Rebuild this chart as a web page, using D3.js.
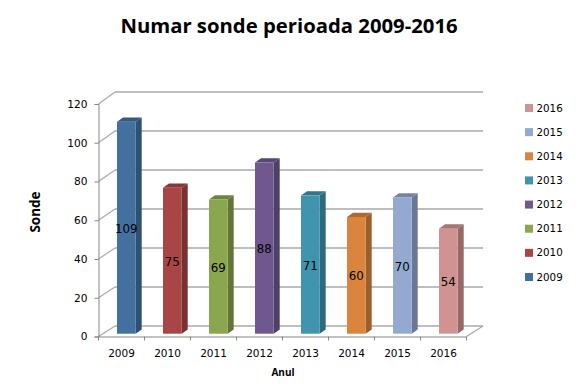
<!DOCTYPE html>
<html>
<head>
<meta charset="utf-8">
<script src="https://d3js.org/d3.v7.min.js"></script>
<style>
  html, body { margin: 0; padding: 0; background: #fff; }
  svg { display: block; }
  text { font-family: "DejaVu Sans", sans-serif; fill: #000; }
  .title { font-family: "Open Sans", sans-serif; font-weight: 700; font-size: 20.3px; }
  .axis-title { font-family: "Open Sans", sans-serif; font-weight: 700; }
</style>
</head>
<body>
<svg id="chart" width="576" height="384"></svg>
<script>
const years = ["2009", "2010", "2011", "2012", "2013", "2014", "2015", "2016"];
const sonde = [109, 75, 69, 88, 71, 60, 70, 54];
const colors = ["#44709f", "#a94544", "#8aa64f", "#70588f", "#4094ae", "#db843d", "#93a9cf", "#d19392"];
const yTicks = [0, 20, 40, 60, 80, 100, 120];

const svg = d3.select("#chart");

// front plane of the fake 3d box
let x = d3.scaleBand().domain(years).range([98.5, 466.5]);
let y = d3.scaleLinear().domain([0, 120]).range([336.5, 104]);
// back wall, gridlines live here
let yBack = d3.scaleLinear().domain([0, 120]).range([326, 92]);
// bars stand in the middle of the floor
let yBar = d3.scaleLinear().domain([0, 120]).range([333.7, 100.3]);

const depthX = 16.5;
const barDepthX = 6, barDepthY = 4.3;
const barWidth = 18.7, barShift = 18.5;
const gridColor = "#a9a9a9", axisColor = "#868686";

// gridlines + wall
let grid = svg.append("g");
grid.selectAll("line.back").data(yTicks).enter().append("line")
  .attr("class", "back")
  .attr("x1", x.range()[0] + depthX).attr("x2", x.range()[1] + depthX)
  .attr("y1", d => yBack(d)).attr("y2", d => yBack(d))
  .attr("stroke", gridColor).attr("stroke-width", 1.4);
grid.selectAll("line.side").data(yTicks).enter().append("line")
  .attr("class", "side")
  .attr("x1", x.range()[0]).attr("x2", x.range()[0] + depthX)
  .attr("y1", d => y(d)).attr("y2", d => yBack(d))
  .attr("stroke", gridColor).attr("stroke-width", 1.2);
// right edge of the floor
grid.append("line")
  .attr("x1", x.range()[1]).attr("x2", x.range()[1] + depthX)
  .attr("y1", y(0)).attr("y2", yBack(0))
  .attr("stroke", gridColor).attr("stroke-width", 1.2);

// bars
let bars = svg.append("g").selectAll("g").data(years).enter().append("g");
let barLeft = d => x(d) + barShift;
let barTop = (d, i) => yBar(sonde[i]);

bars.append("path")
  .attr("d", (d, i) => {
    let l = barLeft(d) + barWidth, t = barTop(d, i), b = yBar(0);
    return `M${l},${t}L${l + barDepthX},${t - barDepthY}L${l + barDepthX},${b - barDepthY}L${l},${b}Z`;
  })
  .attr("fill", (d, i) => d3.rgb(colors[i]).darker(0.95));
bars.append("path")
  .attr("d", (d, i) => {
    let l = barLeft(d), t = barTop(d, i);
    return `M${l},${t}L${l + barDepthX},${t - barDepthY}L${l + barWidth + barDepthX},${t - barDepthY}L${l + barWidth},${t}Z`;
  })
  .attr("fill", (d, i) => d3.rgb(colors[i]).darker(0.65));
bars.append("rect")
  .attr("x", barLeft)
  .attr("y", barTop)
  .attr("width", barWidth)
  .attr("height", (d, i) => yBar(0) - barTop(d, i))
  .attr("fill", (d, i) => colors[i]);
bars.append("text")
  .attr("x", d => barLeft(d) + barWidth / 2)
  .attr("y", (d, i) => (barTop(d, i) + yBar(0)) / 2 + 1)
  .attr("dy", "0.35em")
  .attr("text-anchor", "middle")
  .attr("font-size", 11.8)
  .text((d, i) => sonde[i]);

// axes
let yAxis = d3.axisLeft(y).tickValues(yTicks).tickSize(4).tickPadding(7);
let gy = svg.append("g").attr("transform", "translate(98.5,0)").call(yAxis);
gy.selectAll("text").style("font-size", "10.6px");

let xAxis = d3.axisBottom(x).tickSize(0).tickPadding(13);
let gx = svg.append("g").attr("transform", "translate(0,336.5)").call(xAxis);
gx.selectAll("text").style("font-size", "10.5px");
// ticks go on the category edges
gx.selectAll("line.edge").data(years.concat("end")).enter().append("line")
  .attr("class", "edge")
  .attr("x1", d => d === "end" ? x.range()[1] : x(d))
  .attr("x2", d => d === "end" ? x.range()[1] : x(d))
  .attr("y1", 0).attr("y2", 4)
  .attr("stroke", axisColor);
svg.selectAll(".domain, .tick line").attr("stroke", axisColor);

// titles
svg.append("text").attr("class", "title")
  .attr("x", 289).attr("y", 33)
  .attr("text-anchor", "middle")
  .text("Numar sonde perioada 2009-2016");
svg.append("text").attr("class", "axis-title")
  .attr("transform", "translate(39.5,212) rotate(-90)")
  .attr("text-anchor", "middle")
  .attr("font-size", 13.5)
  .text("Sonde");
svg.append("text").attr("class", "axis-title")
  .attr("x", 283).attr("y", 376)
  .attr("text-anchor", "middle")
  .attr("font-size", 10)
  .text("Anul");

// legend is listed newest first
let legendYears = years.slice().reverse();
let legendY = d3.scalePoint().domain(legendYears).range([108, 277]);
let legend = svg.append("g").selectAll("g").data(legendYears).enter().append("g")
  .attr("transform", d => `translate(525,${legendY(d)})`);
legend.append("rect")
  .attr("x", 0).attr("y", -4)
  .attr("width", 8).attr("height", 8)
  .attr("fill", d => colors[years.indexOf(d)]);
legend.append("text")
  .attr("x", 11.5).attr("dy", "0.35em")
  .attr("font-size", 10.3)
  .text(d => d);
</script>
</body>
</html>
